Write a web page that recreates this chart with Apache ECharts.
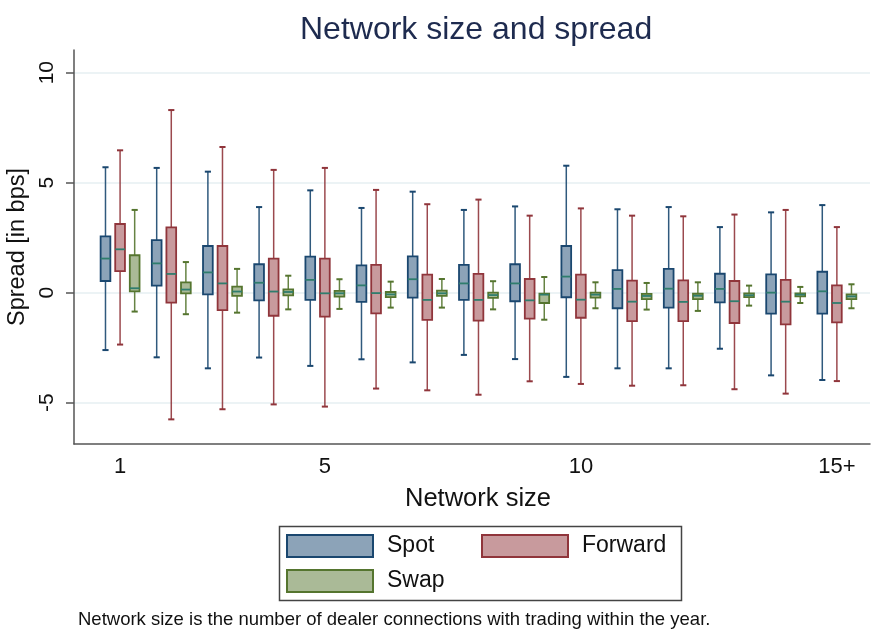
<!DOCTYPE html>
<html><head><meta charset="utf-8">
<script src="https://cdn.jsdelivr.net/npm/echarts@6/dist/echarts.min.js"></script>
<style>html,body{margin:0;padding:0;background:#fff}#c{width:872px;height:630px}</style>
</head><body><div id="c"></div>
<script>
const categories = ['1','2','3','4','5','6','7','8','9','10','11','12','13','14','15+'];
const seriesNames = ['Spot','Forward','Swap'];
// each row: [lower whisker, Q1, median, Q3, upper whisker]
const spot = [
  [-2.61, 0.53, 1.55, 2.56, 5.70],
  [-2.94, 0.32, 1.33, 2.39, 5.67],
  [-3.44, -0.08, 0.92, 2.12, 5.50],
  [-2.95, -0.35, 0.45, 1.29, 3.89],
  [-3.33, -0.33, 0.58, 1.64, 4.65],
  [-3.03, -0.42, 0.33, 1.24, 3.85],
  [-3.17, -0.23, 0.61, 1.65, 4.59],
  [-2.83, -0.33, 0.42, 1.26, 3.76],
  [-3.02, -0.39, 0.42, 1.29, 3.92],
  [-3.83, -0.21, 0.73, 2.12, 5.77],
  [-3.44, -0.71, 0.17, 1.02, 3.79],
  [-3.44, -0.68, 0.18, 1.08, 3.89],
  [-2.55, -0.44, 0.17, 0.86, 2.98],
  [-3.76, -0.95, 0.00, 0.83, 3.65],
  [-3.97, -0.95, 0.06, 0.95, 3.98]
];
const forward = [
  [-2.36, 0.98, 1.97, 3.12, 6.47],
  [-5.76, -0.45, 0.85, 2.97, 8.30],
  [-5.30, -0.79, 0.42, 2.12, 6.62],
  [-5.08, -1.05, 0.05, 1.55, 5.58],
  [-5.18, -1.09, -0.03, 1.55, 5.67],
  [-4.36, -0.94, -0.02, 1.26, 4.67],
  [-4.44, -1.24, -0.33, 0.82, 4.02],
  [-4.64, -1.27, -0.33, 0.85, 4.23],
  [-4.03, -1.18, -0.35, 0.62, 3.50],
  [-4.15, -1.14, -0.32, 0.82, 3.83],
  [-4.23, -1.29, -0.41, 0.55, 3.50],
  [-4.21, -1.29, -0.42, 0.56, 3.47],
  [-4.39, -1.38, -0.39, 0.53, 3.55],
  [-4.59, -1.44, -0.41, 0.58, 3.76],
  [-4.02, -1.35, -0.47, 0.33, 2.98]
];
const swap = [
  [-0.86, 0.06, 0.20, 1.70, 3.76],
  [-0.98, -0.03, 0.14, 0.47, 1.39],
  [-0.91, -0.15, 0.05, 0.27, 1.08],
  [-0.76, -0.12, 0.03, 0.15, 0.77],
  [-0.74, -0.18, -0.03, 0.08, 0.61],
  [-0.68, -0.20, -0.08, 0.03, 0.50],
  [-0.68, -0.15, -0.03, 0.09, 0.62],
  [-0.76, -0.24, -0.11, 0.00, 0.52],
  [-1.23, -0.47, -0.09, -0.05, 0.71],
  [-0.71, -0.23, -0.09, 0.00, 0.47],
  [-0.77, -0.29, -0.15, -0.06, 0.44],
  [-0.83, -0.29, -0.14, -0.05, 0.47],
  [-0.59, -0.20, -0.12, -0.03, 0.32],
  [-0.47, -0.17, -0.09, -0.03, 0.26],
  [-0.71, -0.29, -0.17, -0.08, 0.38]
];
const yTicks = [-5, 0, 5, 10];
const xTicks = [1, 5, 10, 15];
const note = 'Network size is the number of dealer connections with trading within the year.';

const FONT = '"Liberation Sans", Arial, Helvetica, sans-serif';
const styles = [
  {line: '#1a476f', fill: '#8ca3b8', offset: -0.285},
  {line: '#90353b', fill: '#c89a9d', offset: 0},
  {line: '#55752f', fill: '#aaba97', offset: 0.285}
];
const MED = '#2f7d6d';

function toData(arr) {
  return arr.map((r, i) => [i + 1].concat(r));
}

function makeRender(st) {
  return function (params, api) {
    const x = api.value(0) + st.offset;
    const lo = api.coord([x, api.value(1)]);
    const q1 = api.coord([x, api.value(2)]);
    const md = api.coord([x, api.value(3)]);
    const q3 = api.coord([x, api.value(4)]);
    const hi = api.coord([x, api.value(5)]);
    const unit = api.size([1, 0])[0];
    const bw = unit * 0.19, cw = unit * 0.12;
    const cx = lo[0];
    return {
      type: 'group',
      children: [
        {type: 'line', shape: {x1: cx, y1: hi[1], x2: cx, y2: lo[1]}, style: {stroke: st.line, lineWidth: 1.5, opacity: 0.9}},
        {type: 'line', shape: {x1: cx - cw / 2, y1: hi[1], x2: cx + cw / 2, y2: hi[1]}, style: {stroke: st.line, lineWidth: 2}},
        {type: 'line', shape: {x1: cx - cw / 2, y1: lo[1], x2: cx + cw / 2, y2: lo[1]}, style: {stroke: st.line, lineWidth: 2}},
        {type: 'rect', shape: {x: cx - bw / 2, y: q3[1], width: bw, height: q1[1] - q3[1]}, style: {fill: st.fill, stroke: st.line, lineWidth: 1.8}},
        {type: 'line', shape: {x1: cx - bw / 2, y1: md[1], x2: cx + bw / 2, y2: md[1]}, style: {stroke: MED, lineWidth: 1.8}}
      ]
    };
  };
}

const allData = [spot, forward, swap];
const series = seriesNames.map((name, k) => ({
  name: name,
  type: 'custom',
  renderItem: makeRender(styles[k]),
  encode: {x: 0, y: [1, 2, 3, 4, 5]},
  itemStyle: {color: styles[k].fill, borderColor: styles[k].line, borderWidth: 2},
  data: toData(allData[k]),
  z: 3
}));

const legendItem = (name, k) => ({
  name: name,
  icon: 'rect',
  itemStyle: {color: styles[k].fill, borderColor: styles[k].line, borderWidth: 2}
});
const legendCommon = {
  orient: 'vertical',
  top: 534,
  itemWidth: 86,
  itemHeight: 22,
  itemGap: 11,
  padding: 0,
  selectedMode: false,
  textStyle: {fontFamily: FONT, fontSize: 23, color: '#111', padding: [0, 0, 0, 9]}
};

const chart = echarts.init(document.getElementById('c'), null, {renderer: 'canvas'});
chart.setOption({
  backgroundColor: '#fff',
  animation: false,
  title: {
    text: 'Network size and spread',
    left: 300,
    top: 14,
    padding: 0,
    textStyle: {fontFamily: FONT, fontSize: 32, fontWeight: 'normal', color: '#1e2b4f'}
  },
  grid: {left: 74, right: 2, top: 50, bottom: 186, containLabel: false, outerBoundsMode: 'none'},
  xAxis: {
    type: 'value',
    min: 0.1,
    max: 15.647,
    name: 'Network size',
    nameLocation: 'middle',
    nameGap: 42,
    nameTextStyle: {fontFamily: FONT, fontSize: 25.5, color: '#111', padding: [0, 0, 0, 12]},
    axisLine: {show: true, onZero: false, lineStyle: {color: '#555', width: 1.5}},
    axisTick: {show: false},
    splitLine: {show: false},
    axisLabel: {
      customValues: xTicks,
      formatter: v => categories[Math.round(v) - 1],
      fontFamily: FONT, fontSize: 22, color: '#111', margin: 12
    }
  },
  yAxis: {
    type: 'value',
    min: -6.88,
    max: 11.03,
    name: 'Spread [in bps]',
    nameLocation: 'middle',
    nameGap: 39,
    nameTextStyle: {fontFamily: FONT, fontSize: 23.5, color: '#111'},
    axisLine: {show: true, onZero: false, lineStyle: {color: '#555', width: 1.5}},
    axisTick: {show: true, customValues: yTicks, length: 8, lineStyle: {color: '#555', width: 1.5}},
    splitLine: {show: true, lineStyle: {color: '#e6eff2', width: 1.5}},
    axisLabel: {
      customValues: yTicks,
      rotate: 90,
      fontFamily: FONT, fontSize: 21, color: '#111', margin: 16
    }
  },
  legend: [
    Object.assign({}, legendCommon, {left: 286, data: [legendItem('Spot', 0), legendItem('Swap', 2)]}),
    Object.assign({}, legendCommon, {left: 481, data: [legendItem('Forward', 1)]})
  ],
  graphic: [
    {type: 'rect', left: 277, top: 524, shape: {x: 0, y: 0, width: 402, height: 74}, style: {fill: 'none', stroke: '#444', lineWidth: 1.5}, silent: true},
    {type: 'text', left: 78, top: 610, style: {text: note, fontFamily: FONT, fontSize: 18.5, fill: '#111'}, silent: true}
  ],
  series: series
});
</script>
</body></html>
